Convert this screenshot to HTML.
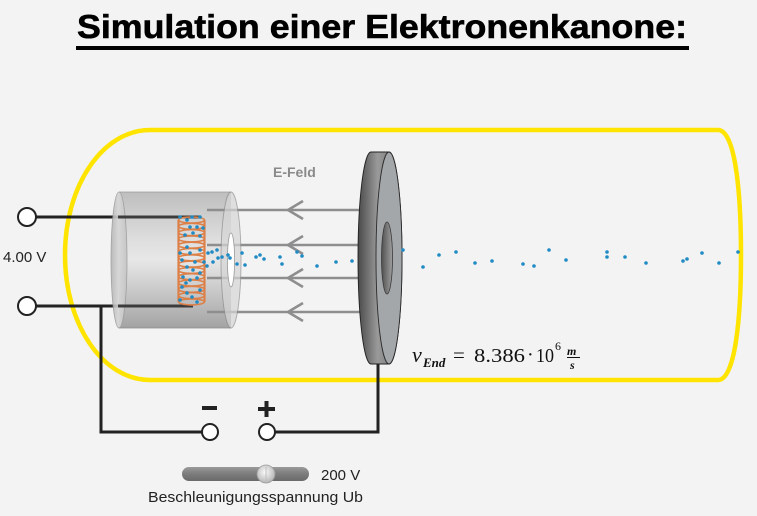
<!DOCTYPE html>
<html>
<head>
<meta charset="utf-8">
<style>
  html,body{margin:0;padding:0;background:#f3f3f3;}
  svg{display:block;}
</style>
</head>
<body>
<svg width="757" height="516" viewBox="0 0 757 516" xmlns="http://www.w3.org/2000/svg">
  <defs>
    <linearGradient id="cyl" x1="0" y1="0" x2="0" y2="1">
      <stop offset="0" stop-color="#b9b9b9"/>
      <stop offset="0.35" stop-color="#dcdcdc"/>
      <stop offset="0.5" stop-color="#e6e6e6"/>
      <stop offset="0.75" stop-color="#c2c2c2"/>
      <stop offset="1" stop-color="#9c9c9c"/>
    </linearGradient>
    <linearGradient id="cap" x1="0" y1="0" x2="1" y2="0">
      <stop offset="0" stop-color="#b5b5b5"/>
      <stop offset="0.5" stop-color="#d6d6d6"/>
      <stop offset="1" stop-color="#c4c4c4"/>
    </linearGradient>
    <linearGradient id="rim" x1="0" y1="0" x2="1" y2="0">
      <stop offset="0" stop-color="#4a4a4a"/>
      <stop offset="0.45" stop-color="#9a9a9a"/>
      <stop offset="1" stop-color="#6a6a6a"/>
    </linearGradient>
    <linearGradient id="hole" x1="0" y1="0" x2="1" y2="0">
      <stop offset="0" stop-color="#505050"/>
      <stop offset="1" stop-color="#a0a0a0"/>
    </linearGradient>
    <linearGradient id="track" x1="0" y1="0" x2="0" y2="1">
      <stop offset="0" stop-color="#9a9a9a"/>
      <stop offset="0.5" stop-color="#7c7c7c"/>
      <stop offset="1" stop-color="#6a6a6a"/>
    </linearGradient>
    <radialGradient id="knob" cx="0.45" cy="0.4" r="0.6">
      <stop offset="0" stop-color="#fafafa"/>
      <stop offset="1" stop-color="#b5b5b5"/>
    </radialGradient>
  </defs>

  <!-- Title -->
  <text x="77" y="38" font-family="Liberation Sans, Arial, sans-serif" font-weight="bold" font-size="33" fill="#000" stroke="#000" stroke-width="0.6" textLength="610" lengthAdjust="spacingAndGlyphs">Simulation einer Elektronenkanone:</text>
  <rect x="76" y="46" width="613" height="4" fill="#000"/>

  <!-- Yellow tube -->
  <path d="M150,130 L718,130 C735,130 741,190 741,255 C741,320 735,380 718,380 L150,380 C103,380 65,325 65,255 C65,185 103,130 150,130 Z" fill="#f3f3f3" stroke="#ffe400" stroke-width="4.5"/>

  <!-- Circuit wires (outside) -->
  <g stroke="#222" stroke-width="3" fill="none">
    <line x1="36" y1="217" x2="120" y2="217"/>
    <line x1="36" y1="306" x2="120" y2="306"/>
    <polyline points="101,306 101,432 202,432"/>
    <polyline points="275,432 378,432 378,360"/>
  </g>

  <!-- Cathode cylinder body -->
  <path d="M119,192 L231,192 L231,328 L119,328 Z" fill="url(#cyl)" opacity="0.92"/>
  <line x1="119" y1="192" x2="231" y2="192" stroke="#9a9a9a" stroke-width="0.8"/>
  <line x1="119" y1="328" x2="231" y2="328" stroke="#8a8a8a" stroke-width="0.8"/>
  <ellipse cx="119" cy="260" rx="8" ry="68" fill="url(#cap)" opacity="0.9" stroke="#9a9a9a" stroke-width="0.8"/>

  <!-- wires inside cylinder -->
  <g stroke="#3c3c3c" stroke-width="3">
    <line x1="118" y1="217" x2="200" y2="217"/>
    <line x1="118" y1="306" x2="193" y2="306"/>
  </g>

  <!-- E-field lines -->
  <g stroke="#8e8e8e" stroke-width="2.6" fill="none">
    <line x1="207" y1="210" x2="360" y2="210"/>
    <line x1="207" y1="245" x2="360" y2="245"/>
    <line x1="207" y1="278" x2="360" y2="278"/>
    <line x1="207" y1="312" x2="360" y2="312"/>
    <polyline points="303,201 288,210 303,219"/>
    <polyline points="303,236 288,245 303,254"/>
    <polyline points="303,269 288,278 303,287"/>
    <polyline points="303,303 288,312 303,321"/>
  </g>

  <!-- Filament coil -->
  <g fill="none" stroke="#dd8048" stroke-width="1.6">
    <ellipse cx="191.5" cy="220" rx="13" ry="3"/>
    <ellipse cx="191.5" cy="226.3" rx="13" ry="3"/>
    <ellipse cx="191.5" cy="232.6" rx="13" ry="3"/>
    <ellipse cx="191.5" cy="238.9" rx="13" ry="3"/>
    <ellipse cx="191.5" cy="245.2" rx="13" ry="3"/>
    <ellipse cx="191.5" cy="251.5" rx="13" ry="3"/>
    <ellipse cx="191.5" cy="257.8" rx="13" ry="3"/>
    <ellipse cx="191.5" cy="264.1" rx="13" ry="3"/>
    <ellipse cx="191.5" cy="270.4" rx="13" ry="3"/>
    <ellipse cx="191.5" cy="276.7" rx="13" ry="3"/>
    <ellipse cx="191.5" cy="283" rx="13" ry="3"/>
    <ellipse cx="191.5" cy="289.3" rx="13" ry="3"/>
    <ellipse cx="191.5" cy="295.6" rx="13" ry="3"/>
    <ellipse cx="191.5" cy="301.9" rx="13" ry="3"/>
    <line x1="178.5" y1="220" x2="178.5" y2="302" stroke-width="2.2"/>
    <line x1="204.5" y1="220" x2="204.5" y2="302" stroke-width="2.2"/>
  </g>

  <!-- Cylinder front face -->
  <ellipse cx="231" cy="260" rx="10" ry="68" fill="#d6d6d6" opacity="0.7" stroke="#8a8a8a" stroke-width="0.9"/>
  <ellipse cx="231" cy="260" rx="3.6" ry="27" fill="#ffffff" stroke="#9a9a9a" stroke-width="0.8"/>

  <!-- Anode disc -->
  <path d="M371,152 L389,152 A13,106 0 0 1 389,364 L371,364 A13,106 0 0 1 371,152 Z" fill="url(#rim)" stroke="#222" stroke-width="0.9"/>
  <ellipse cx="389" cy="258" rx="13" ry="106" fill="#a4a7aa" stroke="#2a2a2a" stroke-width="0.9"/>
  <ellipse cx="387" cy="258" rx="5.5" ry="36" fill="url(#hole)" stroke="#3a3a3a" stroke-width="0.8"/>

  <!-- Terminals -->
  <g fill="#fff" stroke="#222" stroke-width="2">
    <circle cx="27" cy="217" r="9"/>
    <circle cx="27" cy="306" r="9"/>
    <circle cx="210" cy="432" r="8"/>
    <circle cx="267" cy="432" r="8"/>
  </g>
  <rect x="202" y="406" width="15" height="4" fill="#222"/>
  <rect x="258" y="407" width="17" height="4" fill="#222"/>
  <rect x="264.5" y="401" width="4" height="16" fill="#222"/>

  <!-- Electrons -->
  <g fill="#1f8ac4">
    <circle cx="180" cy="217" r="1.8"/><circle cx="187" cy="220" r="1.8"/><circle cx="192" cy="217" r="1.8"/>
    <circle cx="200" cy="217" r="1.8"/><circle cx="197" cy="227" r="1.8"/><circle cx="203" cy="228" r="1.8"/>
    <circle cx="190" cy="227" r="1.8"/><circle cx="185" cy="235" r="1.8"/><circle cx="193" cy="233" r="1.8"/>
    <circle cx="200" cy="236" r="1.8"/><circle cx="187" cy="247" r="1.8"/><circle cx="180" cy="253" r="1.8"/>
    <circle cx="190" cy="253" r="1.8"/><circle cx="200" cy="250" r="1.8"/><circle cx="182" cy="260" r="1.8"/>
    <circle cx="195" cy="262" r="1.8"/><circle cx="187" cy="267" r="1.8"/><circle cx="193" cy="270" r="1.8"/>
    <circle cx="200" cy="273" r="1.8"/><circle cx="183" cy="277" r="1.8"/><circle cx="190" cy="280" r="1.8"/>
    <circle cx="197" cy="278" r="1.8"/><circle cx="182" cy="287" r="1.8"/><circle cx="187" cy="293" r="1.8"/>
    <circle cx="192" cy="297" r="1.8"/><circle cx="200" cy="290" r="1.8"/><circle cx="197" cy="302" r="1.8"/>
    <circle cx="180" cy="300" r="1.8"/><circle cx="204" cy="262" r="1.8"/><circle cx="186" cy="283" r="1.8"/>
    <circle cx="208" cy="253" r="1.8"/><circle cx="212" cy="252" r="1.8"/><circle cx="217" cy="250" r="1.8"/>
    <circle cx="207" cy="266" r="1.8"/><circle cx="213" cy="262" r="1.8"/><circle cx="218" cy="258" r="1.8"/>
    <circle cx="222" cy="257" r="1.8"/><circle cx="228" cy="255" r="1.8"/><circle cx="230" cy="258" r="1.8"/>
    <circle cx="237" cy="264" r="1.8"/><circle cx="242" cy="253" r="1.8"/><circle cx="245" cy="265" r="1.8"/>
    <circle cx="256" cy="257" r="1.8"/><circle cx="260" cy="255" r="1.8"/><circle cx="264" cy="259" r="1.8"/>
    <circle cx="280" cy="257" r="1.8"/><circle cx="282" cy="264" r="1.8"/><circle cx="297" cy="252" r="1.8"/>
    <circle cx="302" cy="256" r="1.8"/><circle cx="317" cy="266" r="1.8"/><circle cx="336" cy="262" r="1.8"/>
    <circle cx="352" cy="261" r="1.8"/><circle cx="403" cy="250" r="1.8"/><circle cx="423" cy="267" r="1.8"/>
    <circle cx="439" cy="255" r="1.8"/><circle cx="456" cy="252" r="1.8"/><circle cx="475" cy="263" r="1.8"/>
    <circle cx="492" cy="261" r="1.8"/><circle cx="523" cy="264" r="1.8"/><circle cx="534" cy="266" r="1.8"/>
    <circle cx="549" cy="250" r="1.8"/><circle cx="566" cy="260" r="1.8"/><circle cx="607" cy="252" r="1.8"/>
    <circle cx="607" cy="257" r="1.8"/><circle cx="625" cy="257" r="1.8"/><circle cx="646" cy="263" r="1.8"/>
    <circle cx="683" cy="261" r="1.8"/><circle cx="687" cy="259" r="1.8"/><circle cx="702" cy="253" r="1.8"/>
    <circle cx="719" cy="263" r="1.8"/><circle cx="738" cy="252" r="1.8"/>
  </g>

  <!-- Labels -->
  <text x="273" y="177" font-family="Liberation Sans, Arial, sans-serif" font-weight="bold" font-size="14" fill="#8a8a8a">E-Feld</text>
  <text x="3" y="262" font-family="Liberation Sans, Arial, sans-serif" font-size="15" fill="#222">4.00 V</text>

  <!-- Formula -->
  <g font-family="Liberation Serif, 'Times New Roman', serif" fill="#111">
    <text x="412" y="362" font-size="22" font-style="italic">v</text>
    <text x="423" y="367" font-size="13" font-style="italic" font-weight="bold">End</text>
    <text x="453" y="362" font-size="21">=</text>
    <text x="474" y="362" font-size="20" textLength="51" lengthAdjust="spacingAndGlyphs">8.386</text>
    <text x="527" y="361" font-size="20">·</text>
    <text x="536" y="362" font-size="20" textLength="18" lengthAdjust="spacingAndGlyphs">10</text>
    <text x="555" y="350" font-size="12">6</text>
    <text x="567" y="355" font-size="12" font-style="italic" font-weight="bold">m</text>
    <line x1="567" y1="357.5" x2="580" y2="357.5" stroke="#111" stroke-width="1"/>
    <text x="570" y="369" font-size="12" font-style="italic" font-weight="bold">s</text>
  </g>

  <!-- Slider -->
  <rect x="182" y="467" width="127" height="14" rx="7" fill="url(#track)"/>
  <circle cx="266" cy="474" r="9" fill="url(#knob)" stroke="#9a9a9a" stroke-width="0.8"/>
  <line x1="266" y1="467" x2="266" y2="481" stroke="#c0c0c0" stroke-width="1"/>
  <text x="321" y="480" font-family="Liberation Sans, Arial, sans-serif" font-size="15" fill="#222">200 V</text>
  <text x="148" y="502" font-family="Liberation Sans, Arial, sans-serif" font-size="15" fill="#222" textLength="215" lengthAdjust="spacingAndGlyphs">Beschleunigungsspannung Ub</text>
</svg>
</body>
</html>
